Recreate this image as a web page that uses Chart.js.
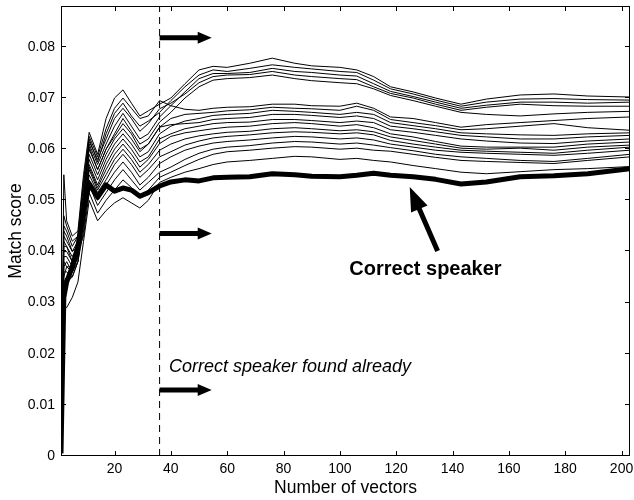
<!DOCTYPE html>
<html>
<head>
<meta charset="utf-8">
<script src="https://cdn.jsdelivr.net/npm/chart.js@4.4.0/dist/chart.umd.min.js"></script>
<style>
  html, body { margin: 0; padding: 0; background: #fff; }
  canvas { display: block; }
</style>
</head>
<body>
<canvas id="scores" width="634" height="500"></canvas>
<script>
// number of test vectors at which each score was sampled
const vectorCounts = [1, 2, 3, 5, 7, 9, 11, 14, 17, 20, 23, 26, 29, 32, 36, 40, 45, 50, 55, 60,
  68, 76, 84, 90, 100, 106, 112, 118, 126, 134, 143, 152, 164, 176, 188, 203];

// match score of the true speaker model
const correctSpeaker = [0.0005, 0.031, 0.034, 0.037, 0.041, 0.048, 0.0533, 0.0506, 0.0530, 0.0518,
  0.0524, 0.0520, 0.0508, 0.0515, 0.0528, 0.0536, 0.0540, 0.0538, 0.0544, 0.0545,
  0.0546, 0.0552, 0.0550, 0.0547, 0.0546, 0.0549, 0.0553, 0.0549, 0.0546, 0.0541,
  0.0532, 0.0536, 0.0546, 0.0548, 0.0552, 0.0562];

// match scores of the other speaker models
const spk01 = [0.001, 0.055, 0.046, 0.043, 0.044, 0.055, 0.0633, 0.059, 0.066, 0.070,
  0.0716, 0.069, 0.0665, 0.0675, 0.0688, 0.070, 0.0728, 0.0755, 0.0762, 0.0760,
  0.0768, 0.0778, 0.0768, 0.0763, 0.0760, 0.0755, 0.0742, 0.0722, 0.0712, 0.0700,
  0.0688, 0.0698, 0.0706, 0.0708, 0.0704, 0.0702];
const spk02 = [0.001, 0.045, 0.044, 0.041, 0.043, 0.053, 0.062, 0.0575, 0.063, 0.067,
  0.069, 0.0665, 0.0645, 0.0655, 0.0672, 0.0695, 0.0722, 0.0745, 0.0755, 0.0752,
  0.0758, 0.0765, 0.0760, 0.0757, 0.0752, 0.0750, 0.0735, 0.0718, 0.0708, 0.0696,
  0.0684, 0.0692, 0.0698, 0.0699, 0.0697, 0.0696];
const spk03 = [0.001, 0.042, 0.041, 0.039, 0.041, 0.051, 0.061, 0.057, 0.061, 0.0645,
  0.067, 0.0645, 0.062, 0.063, 0.0663, 0.0685, 0.0712, 0.0738, 0.0748, 0.0748,
  0.0750, 0.0758, 0.0752, 0.0750, 0.0745, 0.0743, 0.0728, 0.0713, 0.0703, 0.0692,
  0.0680, 0.0686, 0.0692, 0.0692, 0.0690, 0.0692];
const spk04 = [0.001, 0.044, 0.043, 0.040, 0.042, 0.052, 0.0615, 0.058, 0.062, 0.066,
  0.068, 0.066, 0.0635, 0.065, 0.0679, 0.0690, 0.0708, 0.0730, 0.0742, 0.0745,
  0.0746, 0.0752, 0.0745, 0.0742, 0.0738, 0.0736, 0.0722, 0.0709, 0.0700, 0.0688,
  0.0676, 0.0682, 0.0688, 0.0685, 0.0684, 0.0684];
const spk05 = [0.001, 0.040, 0.040, 0.038, 0.040, 0.050, 0.0605, 0.056, 0.060, 0.063,
  0.066, 0.0635, 0.061, 0.062, 0.0653, 0.0672, 0.0700, 0.0722, 0.0735, 0.0738,
  0.0740, 0.0745, 0.0738, 0.0734, 0.0730, 0.0728, 0.0718, 0.0705, 0.0695, 0.0684,
  0.0672, 0.0668, 0.0665, 0.0669, 0.0672, 0.0674];
const spk06 = [0.001, 0.047, 0.045, 0.042, 0.043, 0.054, 0.0625, 0.0585, 0.064, 0.068,
  0.070, 0.068, 0.066, 0.0665, 0.0695, 0.0685, 0.0678, 0.0676, 0.0680, 0.0682,
  0.0683, 0.0688, 0.0688, 0.0685, 0.0684, 0.0690, 0.0680, 0.0663, 0.0660, 0.0652,
  0.0643, 0.0648, 0.0652, 0.0656, 0.0660, 0.0663];
const spk07 = [0.001, 0.043, 0.042, 0.040, 0.041, 0.050, 0.060, 0.056, 0.060, 0.0625,
  0.065, 0.063, 0.060, 0.061, 0.0643, 0.0660, 0.0668, 0.0670, 0.0672, 0.0675,
  0.0677, 0.0682, 0.0680, 0.0679, 0.0676, 0.0684, 0.0676, 0.0658, 0.0652, 0.0646,
  0.0638, 0.0640, 0.0645, 0.0650, 0.0642, 0.0637];
const spk08 = [0.001, 0.039, 0.039, 0.037, 0.039, 0.048, 0.058, 0.054, 0.058, 0.061,
  0.063, 0.061, 0.0585, 0.0595, 0.0630, 0.0645, 0.0655, 0.0660, 0.0666, 0.0668,
  0.0670, 0.0676, 0.0674, 0.0672, 0.0668, 0.0672, 0.0668, 0.0652, 0.0646, 0.0640,
  0.0632, 0.0630, 0.0628, 0.0627, 0.0630, 0.0632];
const spk09 = [0.001, 0.041, 0.041, 0.038, 0.040, 0.049, 0.059, 0.055, 0.059, 0.062,
  0.064, 0.062, 0.0595, 0.061, 0.0643, 0.0648, 0.0650, 0.0652, 0.0658, 0.0660,
  0.0662, 0.0668, 0.0668, 0.0666, 0.0662, 0.0665, 0.0660, 0.0645, 0.0640, 0.0634,
  0.0627, 0.0624, 0.0620, 0.0620, 0.0624, 0.0627];
const spk10 = [0.001, 0.037, 0.038, 0.036, 0.038, 0.047, 0.057, 0.053, 0.057, 0.060,
  0.062, 0.060, 0.0575, 0.0585, 0.0620, 0.0630, 0.0640, 0.0645, 0.0650, 0.0652,
  0.0653, 0.0658, 0.0658, 0.0656, 0.0652, 0.0655, 0.0652, 0.0638, 0.0633, 0.0627,
  0.0620, 0.0616, 0.0612, 0.0611, 0.0616, 0.0620];
const spk11 = [0.001, 0.038, 0.037, 0.036, 0.039, 0.047, 0.0565, 0.0525, 0.056, 0.059,
  0.061, 0.059, 0.0565, 0.058, 0.0611, 0.0625, 0.0632, 0.0636, 0.0640, 0.0643,
  0.0645, 0.0650, 0.0652, 0.0650, 0.0645, 0.0648, 0.0642, 0.0630, 0.0624, 0.0615,
  0.0606, 0.0604, 0.0604, 0.0604, 0.0610, 0.0614];
const spk12 = [0.001, 0.036, 0.036, 0.035, 0.038, 0.046, 0.056, 0.052, 0.055, 0.058,
  0.060, 0.058, 0.0555, 0.057, 0.0598, 0.0610, 0.0620, 0.0626, 0.0630, 0.0633,
  0.0635, 0.0640, 0.0642, 0.0640, 0.0636, 0.0638, 0.0634, 0.0624, 0.0617, 0.0610,
  0.0602, 0.0600, 0.0602, 0.0598, 0.0604, 0.0608];
const spk13 = [0.001, 0.035, 0.037, 0.037, 0.040, 0.046, 0.055, 0.0515, 0.054, 0.057,
  0.059, 0.057, 0.0545, 0.056, 0.0585, 0.0595, 0.0608, 0.0616, 0.0622, 0.0625,
  0.0628, 0.0632, 0.0634, 0.0633, 0.0630, 0.0632, 0.0628, 0.0617, 0.0610, 0.0604,
  0.0598, 0.0596, 0.0594, 0.0592, 0.0598, 0.0604];
const spk14 = [0.001, 0.034, 0.035, 0.036, 0.039, 0.045, 0.054, 0.050, 0.053, 0.0555,
  0.0575, 0.0555, 0.053, 0.0545, 0.0572, 0.0585, 0.0598, 0.0606, 0.0612, 0.0615,
  0.0618, 0.0622, 0.0625, 0.0624, 0.0620, 0.0622, 0.0618, 0.0610, 0.0604, 0.0598,
  0.0594, 0.0592, 0.0590, 0.0588, 0.0592, 0.0598];
const spk15 = [0.001, 0.033, 0.034, 0.035, 0.038, 0.044, 0.053, 0.049, 0.0515, 0.054,
  0.056, 0.054, 0.052, 0.0535, 0.0555, 0.0565, 0.0580, 0.0592, 0.0600, 0.0604,
  0.0607, 0.0612, 0.0615, 0.0614, 0.0610, 0.0612, 0.0608, 0.0603, 0.0597, 0.0590,
  0.0585, 0.0582, 0.0578, 0.0576, 0.0582, 0.0590];
const spk16 = [0.001, 0.032, 0.034, 0.037, 0.040, 0.043, 0.0515, 0.0475, 0.050, 0.052,
  0.054, 0.0525, 0.0505, 0.052, 0.0545, 0.0555, 0.0568, 0.0580, 0.0590, 0.0595,
  0.0598, 0.0602, 0.0605, 0.0604, 0.0600, 0.0602, 0.0598, 0.0596, 0.0590, 0.0584,
  0.0578, 0.0576, 0.0574, 0.0572, 0.0578, 0.0585];
const spk17 = [0.001, 0.029, 0.029, 0.031, 0.034, 0.042, 0.050, 0.046, 0.048, 0.0495,
  0.0505, 0.0495, 0.0485, 0.050, 0.0535, 0.0545, 0.0555, 0.0562, 0.0570, 0.0575,
  0.0578, 0.0582, 0.0586, 0.0585, 0.0580, 0.0582, 0.0578, 0.0575, 0.0568, 0.0562,
  0.0555, 0.0552, 0.0556, 0.0560, 0.0562, 0.0566];

const otherSpeakers = [spk01, spk02, spk03, spk04, spk05, spk06, spk07, spk08, spk09,
  spk10, spk11, spk12, spk13, spk14, spk15, spk16, spk17];

const xTicks = [20, 40, 60, 80, 100, 120, 140, 160, 180, 200];
const yTicks = [0, 0.01, 0.02, 0.03, 0.04, 0.05, 0.06, 0.07, 0.08];

// vector count from which the correct speaker stays on the bottom
const foundAt = 36;

// annotation anchors, in axis units
const notes = {
  arrowEnd: 54.5,
  arrowRows: [0.0818, 0.0435, 0.0129],
  foundText: { x: 39.3, y: 0.0165 },
  speakerText: { x: 130.4, y: 0.0354 },
  speakerArrow: { x0: 134.7, y0: 0.0401, x1: 124.8, y1: 0.0526 }
};

const FONT = '"Liberation Sans", Arial, Helvetica, sans-serif';
Chart.defaults.font.family = FONT;
Chart.defaults.color = '#000';

const toPoints = vals => vals.map((v, i) => ({ x: vectorCounts[i], y: v }));

const datasets = [
  { data: toPoints(correctSpeaker), borderColor: '#000', borderWidth: 5, borderJoinStyle: 'round' }
];
otherSpeakers.forEach(s => {
  datasets.push({ data: toPoints(s), borderColor: '#000', borderWidth: 1 });
});
datasets.push({
  data: [{ x: foundAt, y: 0 }, { x: foundAt, y: 0.088 }],
  borderColor: '#000', borderWidth: 1, borderDash: [7, 5]
});

function arrow(ctx, x0, y0, x1, y1, shaft, headLen, headW) {
  const a = Math.atan2(y1 - y0, x1 - x0);
  const len = Math.hypot(x1 - x0, y1 - y0);
  ctx.save();
  ctx.translate(x0, y0);
  ctx.rotate(a);
  ctx.beginPath();
  ctx.moveTo(0, -shaft / 2);
  ctx.lineTo(len - headLen, -shaft / 2);
  ctx.lineTo(len - headLen, -headW / 2);
  ctx.lineTo(len, 0);
  ctx.lineTo(len - headLen, headW / 2);
  ctx.lineTo(len - headLen, shaft / 2);
  ctx.lineTo(0, shaft / 2);
  ctx.closePath();
  ctx.fill();
  ctx.restore();
}

// matlab style box with inward ticks, plus arrows and notes
const frame = {
  id: 'frame',
  afterDatasetsDraw(chart) {
    const { ctx, chartArea: { left, right, top, bottom }, scales: { x, y } } = chart;
    ctx.save();
    ctx.strokeStyle = '#000';
    ctx.fillStyle = '#000';
    ctx.lineWidth = 1;
    ctx.strokeRect(left + 0.5, top + 0.5, right - left - 1, bottom - top - 1);
    ctx.beginPath();
    xTicks.forEach(v => {
      const px = Math.round(x.getPixelForValue(v)) + 0.5;
      ctx.moveTo(px, bottom); ctx.lineTo(px, bottom - 5);
      ctx.moveTo(px, top); ctx.lineTo(px, top + 5);
    });
    yTicks.forEach(v => {
      const py = Math.round(y.getPixelForValue(v)) - 0.5;
      ctx.moveTo(left, py); ctx.lineTo(left + 5, py);
      ctx.moveTo(right, py); ctx.lineTo(right - 5, py);
    });
    ctx.stroke();

    notes.arrowRows.forEach(v => {
      const py = y.getPixelForValue(v);
      arrow(ctx, x.getPixelForValue(foundAt), py, x.getPixelForValue(notes.arrowEnd), py, 5, 14, 12);
    });
    const sa = notes.speakerArrow;
    arrow(ctx, x.getPixelForValue(sa.x0), y.getPixelForValue(sa.y0),
      x.getPixelForValue(sa.x1), y.getPixelForValue(sa.y1), 5, 24, 18);

    ctx.textBaseline = 'alphabetic';
    ctx.font = 'italic 18px ' + FONT;
    ctx.textAlign = 'left';
    ctx.fillText('Correct speaker found already',
      x.getPixelForValue(notes.foundText.x), y.getPixelForValue(notes.foundText.y));
    ctx.font = 'bold 20px ' + FONT;
    ctx.textAlign = 'center';
    ctx.fillText('Correct speaker',
      x.getPixelForValue(notes.speakerText.x), y.getPixelForValue(notes.speakerText.y));
    ctx.restore();
  }
};

new Chart(document.getElementById('scores'), {
  type: 'line',
  data: { datasets },
  plugins: [frame],
  options: {
    responsive: false,
    animation: false,
    devicePixelRatio: 1,
    layout: { padding: { top: 6, right: 4, left: 0, bottom: 0 } },
    elements: { point: { radius: 0 }, line: { tension: 0 } },
    plugins: { legend: { display: false }, tooltip: { enabled: false } },
    scales: {
      x: {
        type: 'linear', min: 1, max: 203,
        grid: { display: false, drawTicks: false },
        border: { display: false },
        afterBuildTicks: s => { s.ticks = xTicks.map(v => ({ value: v })); },
        afterFit: s => { s.height = 44; s.paddingLeft = 0; s.paddingRight = 0; },
        ticks: { font: { size: 14 }, color: '#000', padding: 5, maxRotation: 0, autoSkip: false },
        title: { display: true, text: 'Number of vectors', color: '#000',
          font: { size: 17.5 }, padding: { top: 0, bottom: 1 } }
      },
      y: {
        type: 'linear', min: 0, max: 0.088,
        grid: { display: false, drawTicks: false },
        border: { display: false },
        afterBuildTicks: s => { s.ticks = yTicks.map(v => ({ value: v })); },
        afterFit: s => { s.width = 61; s.paddingTop = 0; s.paddingBottom = 0; },
        ticks: { font: { size: 14 }, color: '#000', padding: 6, autoSkip: false,
          callback: v => (v === 0 ? '0' : v.toFixed(2)) },
        title: { display: true, text: 'Match score', color: '#000',
          font: { size: 17.5 }, padding: { top: 6, bottom: 0 } }
      }
    }
  }
});
</script>
</body>
</html>
